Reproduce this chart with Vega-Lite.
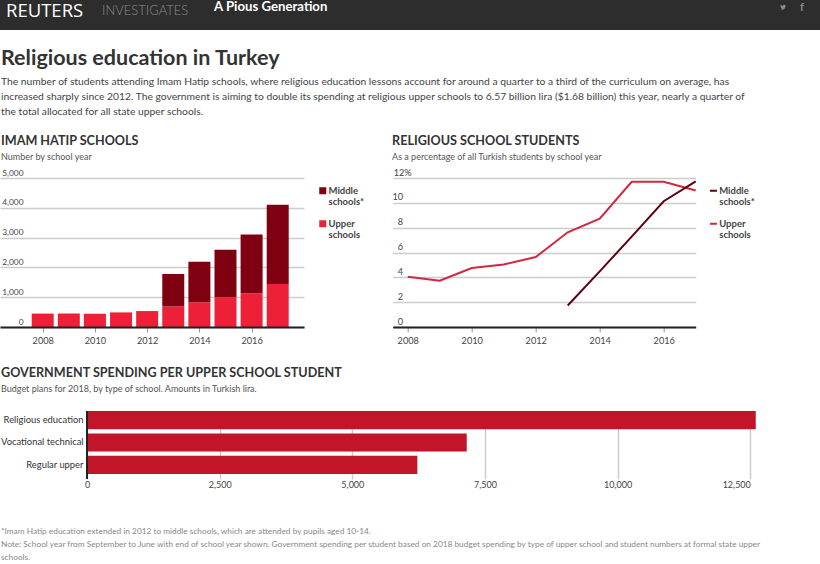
{
"$schema":"https://vega.github.io/schema/vega-lite/v6.json",
"padding":0,
"spacing":0,
"background":"#ffffff",
"resolve":{"scale":{"color":"independent"},"legend":{"color":"independent"}},
"config":{"font":"Lato","view":{"stroke":null},"concat":{"spacing":0},
 "title":{"anchor":"start","frame":"bounds","font":"Lato","color":"#333333"},
 "axis":{"labelFont":"Lato","labelColor":"#444444","labelFontSize":9.2,"title":null}},
"title":{"text":["*Imam Hatip education extended in 2012 to middle schools, which are attended by pupils aged 10-14.","Note: School year from September to June with end of school year shown. Government spending per student based on 2018 budget spending by type of upper school and student numbers at formal state upper","schools."],"orient":"bottom","anchor":"start","frame":"bounds","fontSize":8.3,"fontWeight":"normal","color":"#888888","lineHeight":13,"offset":38,"dx":1},
"datasets":{
"counts":[
{"year":2008,"level":"Upper schools","schools":450},{"year":2009,"level":"Upper schools","schools":450},{"year":2010,"level":"Upper schools","schools":445},{"year":2011,"level":"Upper schools","schools":490},{"year":2012,"level":"Upper schools","schools":535},{"year":2013,"level":"Upper schools","schools":690},{"year":2014,"level":"Upper schools","schools":830},{"year":2015,"level":"Upper schools","schools":1005},{"year":2016,"level":"Upper schools","schools":1130},{"year":2017,"level":"Upper schools","schools":1440},
{"year":2013,"level":"Middle schools*","schools":1090},{"year":2014,"level":"Middle schools*","schools":1360},{"year":2015,"level":"Middle schools*","schools":1590},{"year":2016,"level":"Middle schools*","schools":1970},{"year":2017,"level":"Middle schools*","schools":2665}],
"shares":[
{"year":2008,"level":"Upper schools","share":4.05},{"year":2009,"level":"Upper schools","share":3.73},{"year":2010,"level":"Upper schools","share":4.75},{"year":2011,"level":"Upper schools","share":5.04},{"year":2012,"level":"Upper schools","share":5.63},{"year":2013,"level":"Upper schools","share":7.63},{"year":2014,"level":"Upper schools","share":8.72},{"year":2015,"level":"Upper schools","share":11.7},{"year":2016,"level":"Upper schools","share":11.7},{"year":2017,"level":"Upper schools","share":10.99},
{"year":2013,"level":"Middle schools*","share":1.73},{"year":2014,"level":"Middle schools*","share":4.48},{"year":2015,"level":"Middle schools*","share":7.28},{"year":2016,"level":"Middle schools*","share":10.13},{"year":2017,"level":"Middle schools*","share":11.73}],
"spending":[{"type":"Religious education","lira":12603},{"type":"Vocational technical","lira":7156},{"type":"Regular upper","lira":6225}]
},
"vconcat":[
{"hconcat":[
 {"width":100,"height":30,"view":{"fill":"#2d2d2d"},"title":{"text":"REUTERS","font":"Open Sans","fontSize":18.5,"fontWeight":"normal","color":"#ffffff","offset":-20,"dx":6,"frame":"group"},"mark":"text","data":{"values":[{}]},"encoding":{}},
 {"width":110,"height":30,"view":{"fill":"#2d2d2d"},"title":{"text":"INVESTIGATES","fontSize":13,"fontWeight":300,"color":"#8a8a8a","offset":-18,"dx":2,"frame":"group"},"mark":"text","data":{"values":[{}]},"encoding":{}},
 {"width":563,"height":30,"view":{"fill":"#2d2d2d"},"title":{"text":"A Pious Generation","fontSize":13.2,"fontWeight":"bold","color":"#ffffff","offset":-14.5,"dx":4,"frame":"group"},"mark":"text","data":{"values":[{}]},"encoding":{}},
 {"width":20,"height":30,"view":{"fill":"#2d2d2d"},"mark":{"type":"point","filled":true,"opacity":1,"color":"#8a8a8a","yOffset":-8,"size":30,"shape":"M1 -0.75C0.9 -0.6 0.8 -0.55 0.7 -0.5 0.8 -0.6 0.85 -0.7 0.9 -0.85 0.8 -0.75 0.7 -0.7 0.6 -0.7 0.4 -0.9 0 -0.8 0 -0.35 -0.4 -0.4 -0.7 -0.55 -0.9 -0.8 -1 -0.5 -0.9 -0.2 -0.7 -0.1 -0.8 -0.1 -0.85 -0.15 -0.9 -0.15 -0.9 0.05 -0.75 0.2 -0.55 0.3 -0.65 0.3 -0.7 0.3 -0.8 0.3 -0.7 0.5 -0.55 0.6 -0.35 0.6 -0.55 0.75 -0.8 0.8 -1 0.8 -0.1 1.2 0.9 0.9 0.9 -0.45 0.95 -0.55 1 -0.65 1 -0.75Z"},"data":{"values":[{}]},"encoding":{}},
 {"width":27,"height":30,"view":{"fill":"#2d2d2d"},"title":{"text":"f","fontSize":11,"fontWeight":"bold","color":"#8a8a8a","offset":-13,"dx":7,"frame":"group"},"mark":"text","data":{"values":[{}]},"encoding":{}}
]},
{"width":820,"height":18,"mark":"text","data":{"values":[{}]},"encoding":{}},
{"width":820,"height":18,"title":{"text":"Religious education in Turkey","fontSize":21.5,"fontWeight":"bold","dx":1,"offset":0,"subtitle":["The number of students attending Imam Hatip schools, where religious education lessons account for around a quarter to a third of the curriculum on average, has","increased sharply since 2012. The government is aiming to double its spending at religious upper schools to 6.57 billion lira ($1.68 billion) this year, nearly a quarter of","the total allocated for all state upper schools."],"subtitleFontSize":10.3,"subtitleColor":"#444444","subtitleLineHeight":15,"subtitlePadding":7,"subtitleFont":"Lato"},"mark":"text","data":{"values":[{}]},"encoding":{}},
{"spacing":18.7,"resolve":{"scale":{"color":"independent"},"legend":{"color":"independent"}},"hconcat":[
 {"width":304,"height":149,
  "title":{"text":"IMAM HATIP SCHOOLS","fontSize":12.6,"fontWeight":"bold","dx":1,"offset":5.9,"subtitle":"Number by school year","subtitleFontSize":9,"subtitleColor":"#555555","subtitlePadding":5.5,"subtitleFont":"Lato"},
  "data":{"name":"counts"},"mark":{"type":"bar","size":22},
  "encoding":{
   "x":{"field":"year","type":"quantitative","scale":{"domain":[2006.556,2017.815],"nice":false,"zero":false},"axis":{"values":[2008,2010,2012,2014,2016],"format":"d","domainColor":"#222222","domainWidth":2,"tickColor":"#999999","tickSize":5,"labelPadding":4,"grid":false,"zindex":1}},
   "y":{"field":"schools","type":"quantitative","aggregate":"sum","scale":{"domain":[0,5000],"nice":false},"axis":{"values":[0,1000,2000,3000,4000,5000],"format":",d","labelFontSize":8.4,"domain":false,"ticks":false,"grid":true,"gridColor":"#cccccc","gridWidth":1.5,"labelAlign":"right","labelBaseline":"middle","labelPadding":-23,"labelOffset":-6}},
   "color":{"field":"level","type":"nominal","scale":{"domain":["Middle schools*","Upper schools"],"range":["#7f0010","#ee2037"]},
     "legend":{"title":null,"orient":"right","offset":6,"padding":8,"symbolType":"square","symbolSize":49,"symbolOpacity":1,"labelFont":"Lato","labelFontSize":9.5,"labelFontWeight":"bold","labelColor":"#444444","labelExpr":"split(datum.label,' ')","rowPadding":11,"labelOffset":1,"encoding":{"labels":{"update":{"lineHeight":{"value":10}}}}}}
  }},
 {"width":303,"height":149,
  "title":{"text":"RELIGIOUS SCHOOL STUDENTS","fontSize":12.6,"fontWeight":"bold","offset":5.9,"subtitle":"As a percentage of all Turkish students by school year","subtitleFontSize":9,"subtitleColor":"#555555","subtitlePadding":5.5,"subtitleFont":"Lato"},
  "data":{"name":"shares"},"mark":{"type":"line","strokeWidth":2},
  "encoding":{
   "x":{"field":"year","type":"quantitative","scale":{"domain":[2007.53,2017],"nice":false,"zero":false},"axis":{"values":[2008,2010,2012,2014,2016],"format":"d","domainColor":"#222222","domainWidth":2,"tickColor":"#999999","tickSize":5,"labelPadding":4,"grid":false,"zindex":1}},
   "y":{"field":"share","type":"quantitative","scale":{"domain":[0,12],"nice":false},"axis":{"values":[0,2,4,6,8,10,12],"labelExpr":"datum.value===12?'12%':datum.label","domain":false,"ticks":false,"grid":true,"gridColor":"#cccccc","gridWidth":1.5,"labelAlign":{"condition":{"test":"datum.value===12","value":"left"},"value":"right"},"labelBaseline":"middle","labelPadding":{"condition":{"test":"datum.value===12","value":-0.5},"value":-10},"labelOffset":-6}},
   "color":{"field":"level","type":"nominal","scale":{"domain":["Middle schools*","Upper schools"],"range":["#5e0010","#d0283f"]},
     "legend":{"title":null,"orient":"right","offset":1,"padding":8,"symbolType":"stroke","symbolSize":49,"symbolStrokeWidth":2,"labelFont":"Lato","labelFontSize":9.5,"labelFontWeight":"bold","labelColor":"#444444","labelExpr":"split(datum.label,' ')","rowPadding":11,"labelOffset":1,"encoding":{"labels":{"update":{"lineHeight":{"value":10}}}}}}
  }}
]},
{"width":820,"height":19.3,"mark":"text","data":{"values":[{}]},"encoding":{}},
{"width":750.3,"height":68,
 "title":{"text":"GOVERNMENT SPENDING PER UPPER SCHOOL STUDENT","fontSize":12.6,"fontWeight":"bold","dx":1,"offset":16,"subtitle":"Budget plans for 2018, by type of school. Amounts in Turkish lira.","subtitleFontSize":9,"subtitleColor":"#555555","subtitlePadding":5.5,"subtitleFont":"Lato"},
 "data":{"name":"spending"},
 "layer":[
  {"mark":{"type":"bar","color":"#c2152a"},
   "encoding":{
    "x":{"field":"lira","type":"quantitative","scale":{"domain":[-1640,12500],"nice":false,"zero":false},"axis":{"values":[0,2500,5000,7500,10000,12500],"format":",d","labelFontSize":9,"domain":false,"ticks":false,"grid":true,"gridColor":"#cccccc","gridWidth":1.5,"labelPadding":1}},
    "y":{"field":"type","type":"nominal","sort":null,"scale":{"paddingInner":0.19,"paddingOuter":0.113,"align":0},"axis":{"domain":false,"ticks":false,"labelFontSize":9.4,"labelAlign":"right","labelPadding":-83,"labelColor":"#333333","zindex":1,"labelLimit":200}}
   }},
  {"mark":{"type":"rule","color":"#222222","strokeWidth":2},"encoding":{"x":{"datum":0,"type":"quantitative"}}}
 ]}
]
}
